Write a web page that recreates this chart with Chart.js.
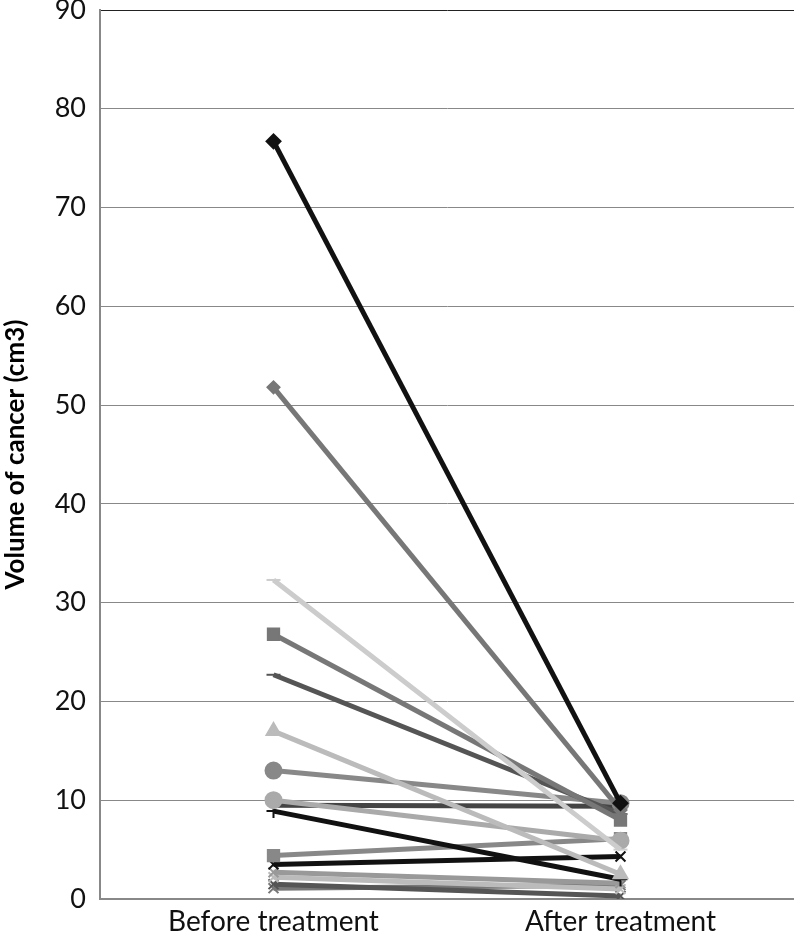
<!DOCTYPE html>
<html>
<head>
<meta charset="utf-8">
<script src="https://cdn.jsdelivr.net/npm/chart.js@4.4.0/dist/chart.umd.min.js"></script>
<style>
html,body{margin:0;padding:0;background:#fff;}
#wrap{position:relative;width:794px;height:934px;}
</style>
</head>
<body>
<div id="wrap"><canvas id="c" width="794" height="934"></canvas></div>
<script>
const categories = ['Before treatment', 'After treatment'];
const yTicks = [0, 10, 20, 30, 40, 50, 60, 70, 80, 90];
const p1 = [76.7, 9.7];
const p2 = [51.8, 9.0];
const p3 = [32.3, 5.0];
const p4 = [26.8, 8.0];
const p5 = [22.7, 8.6];
const p6 = [17.0, 2.5];
const p7 = [13.0, 9.7];
const p8 = [10.0, 5.9];
const p9 = [9.5, 9.4];
const p10 = [8.9, 2.0];
const p11 = [4.4, 6.1];
const p12 = [3.5, 4.3];
const p13 = [2.7, 1.6];
const p14 = [2.2, 1.0];
const p15 = [1.5, 0.3];
const p16 = [1.1, 1.4];

const seriesList = [
  [p1, '#111111', 'rectRot', 7],
  [p2, '#777777', 'rectRot', 6],
  [p3, '#cccccc', 'line', 7],
  [p4, '#777777', 'rect', 8],
  [p5, '#555555', 'line', 7],
  [p6, '#bbbbbb', 'triangle', 8],
  [p7, '#888888', 'circle', 8],
  [p8, '#aaaaaa', 'circle', 8],
  [p9, '#444444', 'circle', 0],
  [p10, '#111111', 'cross', 7],
  [p11, '#888888', 'rect', 8],
  [p12, '#111111', 'crossRot', 7],
  [p13, '#999999', 'crossRot', 7],
  [p14, '#bbbbbb', 'crossRot', 7],
  [p15, '#555555', 'crossRot', 7],
  [p16, '#777777', 'crossRot', 7]
];

const datasets = seriesList.map((s, i) => ({
  label: 'Patient ' + (i + 1),
  data: s[0],
  borderColor: s[1],
  backgroundColor: s[1],
  pointBorderColor: s[1],
  pointBackgroundColor: s[1],
  pointStyle: s[2],
  pointRadius: s[3],
  pointBorderWidth: 2,
  borderWidth: 5,
  tension: 0
}));

new Chart(document.getElementById('c'), {
  type: 'line',
  data: { labels: categories, datasets: datasets },
  options: {
    responsive: false,
    animation: false,
    layout: { autoPadding: false, padding: { top: 10, right: 0, left: 0, bottom: 0 } },
    plugins: { legend: { display: false }, tooltip: { enabled: false } },
    scales: {
      x: {
        offset: true,
        grid: { display: false, drawTicks: false },
        border: { color: '#888888', width: 2 },
        ticks: { color: '#111', font: { family: 'Lato', size: 28 }, padding: 6 },
        afterFit: (s) => { s.height = 35; s.paddingLeft = 0; s.paddingRight = 0; }
      },
      y: {
        min: 0, max: 90,
        afterBuildTicks: (s) => { s.ticks = yTicks.map(v => ({ value: v })); },
        grid: { color: (ctx) => ctx.tick && ctx.tick.value === 90 ? '#222222' : '#888888', lineWidth: 1, drawTicks: false },
        border: { color: '#888888', width: 2 },
        ticks: { color: '#111', font: { family: 'Lato', size: 27 }, padding: 14 },
        title: { display: true, text: 'Volume of cancer (cm3)', color: '#000', font: { family: 'Lato', size: 26, weight: 'bold' }, padding: { top: 0, bottom: 0 } },
        afterFit: (s) => { s.width = 100; s.paddingTop = 0; s.paddingBottom = 0; }
      }
    }
  }
});
</script>
</body>
</html>
